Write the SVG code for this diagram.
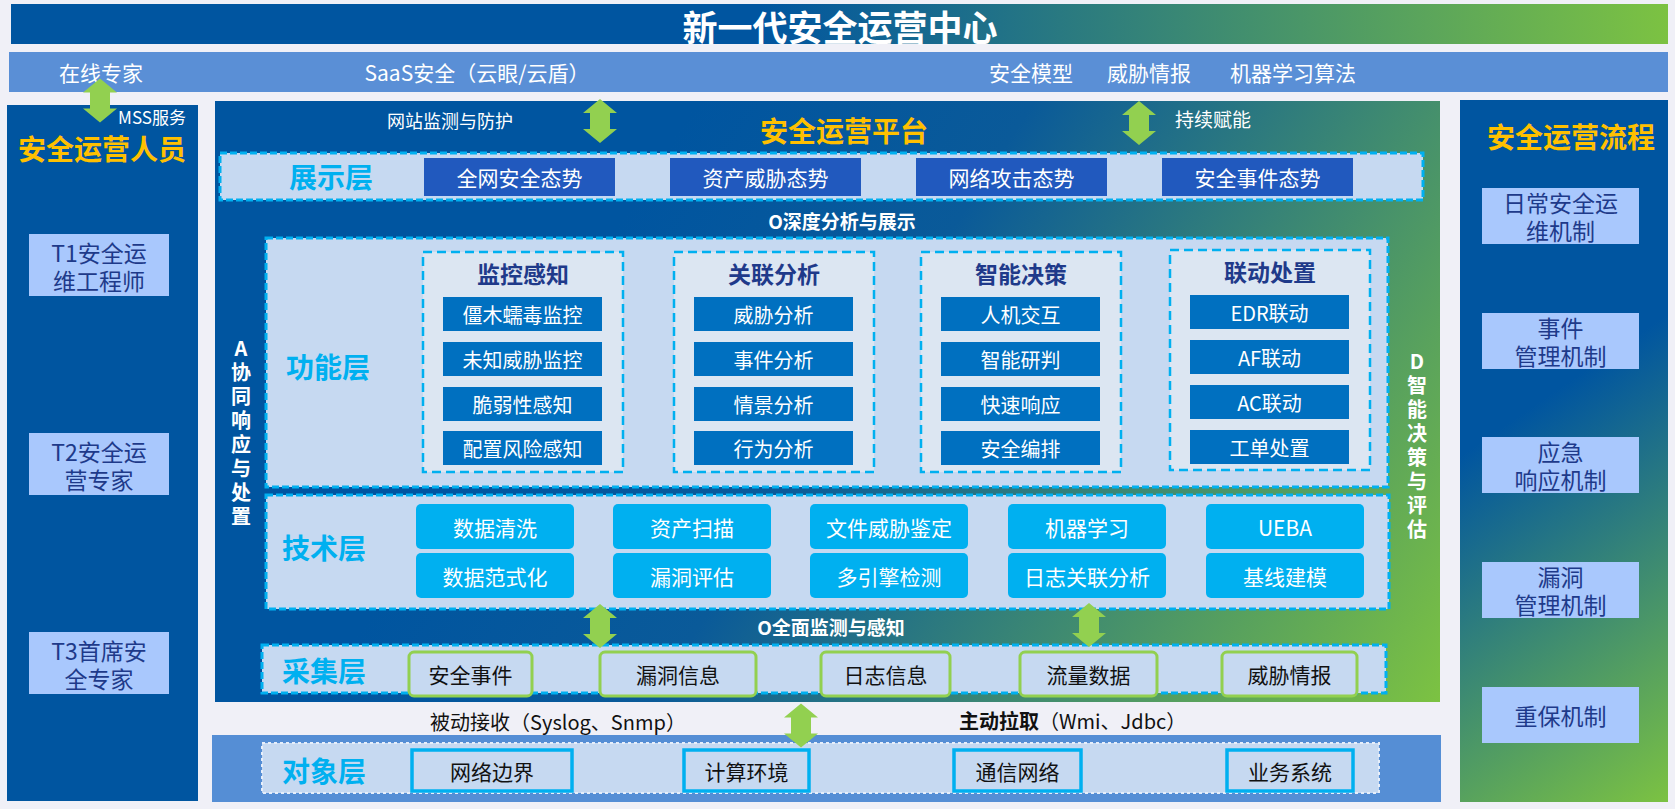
<svg xmlns="http://www.w3.org/2000/svg" xmlns:xlink="http://www.w3.org/1999/xlink" width="1675" height="809" viewBox="0 0 1675 809">
<defs>
<linearGradient id="gTitle" gradientUnits="userSpaceOnUse" x1="760" y1="0" x2="1668" y2="0">
<stop offset="0" stop-color="#0055a0"/><stop offset="1" stop-color="#7cc242"/>
</linearGradient>
<linearGradient id="gPlat" gradientUnits="userSpaceOnUse" x1="640" y1="190" x2="1440" y2="700">
<stop offset="0" stop-color="#0055a0"/><stop offset="0.3" stop-color="#0a5a99"/><stop offset="1" stop-color="#7cc242"/>
</linearGradient>
<linearGradient id="gRight" gradientUnits="userSpaceOnUse" x1="1440" y1="470" x2="1668" y2="802">
<stop offset="0" stop-color="#0055a0"/><stop offset="1" stop-color="#7cc242"/>
</linearGradient>
<path id="dbl" d="M0,-22 L17,-8 L10,-8 L10,8 L17,8 L0,22 L-17,8 L-10,8 L-10,-8 L-17,-8 Z"/>
<style>
text{font-family:"Noto Sans CJK SC","Noto Sans",sans-serif;text-anchor:middle;dominant-baseline:central}
.w{fill:#fff}
.b{font-weight:bold}
.y{fill:#ffc000;font-weight:bold;font-size:28px}
.lay{fill:#00b0f0;font-weight:bold;font-size:28px}
.panel{fill:#c6d9f1;stroke:#00b0f0;stroke-width:3;stroke-dasharray:7 3}
.sub{fill:#dce6f2;stroke:#00b0f0;stroke-width:2.5;stroke-dasharray:9 5}
.item{fill:#0070c0}
.tech{fill:#00b0f0}
.show{fill:#2159be}
.coll{fill:#c6d9f1;stroke:#92d050;stroke-width:3}
.obj{fill:#c6d9f1;stroke:#00b0f0;stroke-width:3.5}
.side{fill:#a9c8fd}
.sidet{fill:#1e3a8a;font-size:23px}
.t20{font-size:20px}
.t21{font-size:21px}
.k{fill:#111}
.subt{fill:#1f3a8a;font-weight:bold;font-size:23px}
.vt{fill:#fff;font-weight:bold;font-size:20px}
.arr{fill:#92d050}
</style>
</defs>
<rect x="0" y="0" width="1675" height="809" fill="#f0f0f7"/>

<g id="title">
<rect x="11" y="4" width="1657" height="40" fill="url(#gTitle)"/>
<text x="840" y="25" class="w b" font-size="35">新一代安全运营中心</text>
</g>

<g id="topbar">
<rect x="9" y="52" width="1659" height="40" fill="#5a8fd6"/>
<text x="101" y="72" class="w t21">在线专家</text>
<text x="477" y="72" class="w t21">SaaS安全（云眼/云盾）</text>
<text x="1031" y="72" class="w t21">安全模型</text>
<text x="1149" y="72" class="w t21">威胁情报</text>
<text x="1293" y="72" class="w t21">机器学习算法</text>
</g>

<g id="left-panel">
<rect x="7" y="105" width="191" height="696" fill="#0055a0"/>
<text x="152" y="116" class="w" font-size="17">MSS服务</text>
<text x="102" y="148" class="y">安全运营人员</text>
<g id="t1"><rect x="29" y="234" width="140" height="62" class="side"/>
<text class="sidet"><tspan x="99" y="252">T1安全运</tspan><tspan x="99" y="280">维工程师</tspan></text></g>
<g id="t2"><rect x="29" y="433" width="140" height="62" class="side"/>
<text class="sidet"><tspan x="99" y="451">T2安全运</tspan><tspan x="99" y="479">营专家</tspan></text></g>
<g id="t3"><rect x="29" y="632" width="140" height="62" class="side"/>
<text class="sidet"><tspan x="99" y="650">T3首席安</tspan><tspan x="99" y="678">全专家</tspan></text></g>
</g>

<g id="platform">
<rect x="215" y="101" width="1225" height="601" fill="url(#gPlat)"/>
<text x="450" y="120" class="w" font-size="18">网站监测与防护</text>
<text x="1213" y="118" class="w" font-size="19">持续赋能</text>
<text x="844" y="130" class="y">安全运营平台</text>
<text x="842" y="220" class="w b" font-size="19">O深度分析与展示</text>
<text x="831" y="626" class="w b" font-size="19">O全面监测与感知</text>
<text id="vA" class="vt"><tspan x="241" y="347">A</tspan><tspan x="241" y="371">协</tspan><tspan x="241" y="395">同</tspan><tspan x="241" y="419">响</tspan><tspan x="241" y="443">应</tspan><tspan x="241" y="467">与</tspan><tspan x="241" y="491">处</tspan><tspan x="241" y="515">置</tspan></text>
<text id="vD" class="vt"><tspan x="1417" y="360">D</tspan><tspan x="1417" y="384">智</tspan><tspan x="1417" y="408">能</tspan><tspan x="1417" y="432">决</tspan><tspan x="1417" y="456">策</tspan><tspan x="1417" y="480">与</tspan><tspan x="1417" y="504">评</tspan><tspan x="1417" y="528">估</tspan></text>
</g>

<g id="display-layer">
<rect x="220" y="153" width="1203" height="47" class="panel"/>
<text x="331" y="176" class="lay">展示层</text>
<rect x="424" y="158" width="191" height="38" class="show"/><text x="519.5" y="177" class="w t21">全网安全态势</text>
<rect x="670" y="158" width="191" height="38" class="show"/><text x="765.5" y="177" class="w t21">资产威胁态势</text>
<rect x="916" y="158" width="191" height="38" class="show"/><text x="1011.5" y="177" class="w t21">网络攻击态势</text>
<rect x="1162" y="158" width="191" height="38" class="show"/><text x="1257.5" y="177" class="w t21">安全事件态势</text>
</g>

<g id="function-layer">
<rect x="266" y="238" width="1122" height="249" class="panel"/>
<text x="328" y="366" class="lay">功能层</text>
<g id="monitor">
<rect x="423" y="252" width="200" height="220" class="sub"/>
<text x="523" y="273" class="subt">监控感知</text>
<rect x="443" y="297" width="159" height="34" class="item"/><text x="522.5" y="314" class="w t20">僵木蠕毒监控</text>
<rect x="443" y="342" width="159" height="34" class="item"/><text x="522.5" y="359" class="w t20">未知威胁监控</text>
<rect x="443" y="387" width="159" height="34" class="item"/><text x="522.5" y="404" class="w t20">脆弱性感知</text>
<rect x="443" y="431" width="159" height="34" class="item"/><text x="522.5" y="448" class="w t20">配置风险感知</text>
</g>
<g id="correlate">
<rect x="674" y="252" width="200" height="220" class="sub"/>
<text x="774" y="273" class="subt">关联分析</text>
<rect x="694" y="297" width="159" height="34" class="item"/><text x="773.5" y="314" class="w t20">威胁分析</text>
<rect x="694" y="342" width="159" height="34" class="item"/><text x="773.5" y="359" class="w t20">事件分析</text>
<rect x="694" y="387" width="159" height="34" class="item"/><text x="773.5" y="404" class="w t20">情景分析</text>
<rect x="694" y="431" width="159" height="34" class="item"/><text x="773.5" y="448" class="w t20">行为分析</text>
</g>
<g id="decide">
<rect x="921" y="252" width="200" height="220" class="sub"/>
<text x="1021" y="273" class="subt">智能决策</text>
<rect x="941" y="297" width="159" height="34" class="item"/><text x="1020.5" y="314" class="w t20">人机交互</text>
<rect x="941" y="342" width="159" height="34" class="item"/><text x="1020.5" y="359" class="w t20">智能研判</text>
<rect x="941" y="387" width="159" height="34" class="item"/><text x="1020.5" y="404" class="w t20">快速响应</text>
<rect x="941" y="431" width="159" height="34" class="item"/><text x="1020.5" y="448" class="w t20">安全编排</text>
</g>
<g id="linkage">
<rect x="1170" y="250" width="200" height="220" class="sub"/>
<text x="1270" y="271" class="subt">联动处置</text>
<rect x="1190" y="295" width="159" height="34" class="item"/><text x="1269.5" y="312" class="w t20">EDR联动</text>
<rect x="1190" y="340" width="159" height="34" class="item"/><text x="1269.5" y="357" class="w t20">AF联动</text>
<rect x="1190" y="385" width="159" height="34" class="item"/><text x="1269.5" y="402" class="w t20">AC联动</text>
<rect x="1190" y="430" width="159" height="34" class="item"/><text x="1269.5" y="447" class="w t20">工单处置</text>
</g>
</g>

<g id="tech-layer">
<rect x="266" y="495" width="1123" height="114" class="panel"/>
<text x="324" y="547" class="lay">技术层</text>
<rect x="416" y="504" width="158" height="45" rx="5" class="tech"/><text x="495" y="526.5" class="w t21">数据清洗</text>
<rect x="613" y="504" width="158" height="45" rx="5" class="tech"/><text x="692" y="526.5" class="w t21">资产扫描</text>
<rect x="810" y="504" width="158" height="45" rx="5" class="tech"/><text x="889" y="526.5" class="w t21">文件威胁鉴定</text>
<rect x="1008" y="504" width="158" height="45" rx="5" class="tech"/><text x="1087" y="526.5" class="w t21">机器学习</text>
<rect x="1206" y="504" width="158" height="45" rx="5" class="tech"/><text x="1285" y="526.5" class="w t21">UEBA</text>
<rect x="416" y="553" width="158" height="45" rx="5" class="tech"/><text x="495" y="575.5" class="w t21">数据范式化</text>
<rect x="613" y="553" width="158" height="45" rx="5" class="tech"/><text x="692" y="575.5" class="w t21">漏洞评估</text>
<rect x="810" y="553" width="158" height="45" rx="5" class="tech"/><text x="889" y="575.5" class="w t21">多引擎检测</text>
<rect x="1008" y="553" width="158" height="45" rx="5" class="tech"/><text x="1087" y="575.5" class="w t21">日志关联分析</text>
<rect x="1206" y="553" width="158" height="45" rx="5" class="tech"/><text x="1285" y="575.5" class="w t21">基线建模</text>
</g>

<g id="collect-layer">
<rect x="262" y="645" width="1124" height="48" class="panel"/>
<text x="324" y="670" class="lay">采集层</text>
<rect x="409" y="652" width="123" height="44" rx="5" class="coll"/><text x="470.5" y="674" class="k t21">安全事件</text>
<rect x="600" y="652" width="156" height="44" rx="5" class="coll"/><text x="678" y="674" class="k t21">漏洞信息</text>
<rect x="821" y="652" width="129" height="44" rx="5" class="coll"/><text x="885.5" y="674" class="k t21">日志信息</text>
<rect x="1020" y="652" width="137" height="44" rx="5" class="coll"/><text x="1088.5" y="674" class="k t21">流量数据</text>
<rect x="1222" y="652" width="135" height="44" rx="5" class="coll"/><text x="1289.5" y="674" class="k t21">威胁情报</text>
</g>

<g id="between-labels">
<text x="558" y="721" class="k t20">被动接收（Syslog、Snmp）</text>
<text x="959" y="720" class="k t20" style="text-anchor:start"><tspan font-weight="bold">主动拉取</tspan>（Wmi、Jdbc）</text>
</g>

<g id="object-layer">
<rect x="212" y="735" width="1229" height="67" fill="#558ed5"/>
<rect x="262" y="743" width="1117" height="50" fill="#c6d9f1" stroke="#e6eefa" stroke-width="2" stroke-dasharray="3 3"/>
<text x="324" y="770" class="lay">对象层</text>
<rect x="412" y="750" width="160" height="41" class="obj"/><text x="492" y="770.5" class="k t21">网络边界</text>
<rect x="684" y="750" width="125" height="41" class="obj"/><text x="746.5" y="770.5" class="k t21">计算环境</text>
<rect x="954" y="750" width="127" height="41" class="obj"/><text x="1017.5" y="770.5" class="k t21">通信网络</text>
<rect x="1227" y="750" width="126" height="41" class="obj"/><text x="1290" y="770.5" class="k t21">业务系统</text>
</g>

<g id="right-panel">
<rect x="1460" y="100" width="208" height="702" fill="url(#gRight)"/>
<text x="1571" y="136" class="y">安全运营流程</text>
<g id="r1"><rect x="1482" y="188" width="157" height="56" class="side"/>
<text class="sidet"><tspan x="1560.5" y="202">日常安全运</tspan><tspan x="1560.5" y="230">维机制</tspan></text></g>
<g id="r2"><rect x="1482" y="313" width="157" height="56" class="side"/>
<text class="sidet"><tspan x="1560.5" y="327">事件</tspan><tspan x="1560.5" y="355">管理机制</tspan></text></g>
<g id="r3"><rect x="1482" y="437" width="157" height="56" class="side"/>
<text class="sidet"><tspan x="1560.5" y="451">应急</tspan><tspan x="1560.5" y="479">响应机制</tspan></text></g>
<g id="r4"><rect x="1482" y="562" width="157" height="56" class="side"/>
<text class="sidet"><tspan x="1560.5" y="576">漏洞</tspan><tspan x="1560.5" y="604">管理机制</tspan></text></g>
<g id="r5"><rect x="1482" y="687" width="157" height="56" class="side"/>
<text x="1560.5" y="715" class="sidet">重保机制</text></g>
</g>

<g id="connectors" class="arr">
<use xlink:href="#dbl" x="100" y="100.5"/>
<use xlink:href="#dbl" x="600" y="121"/>
<use xlink:href="#dbl" x="1139" y="123"/>
<use xlink:href="#dbl" x="600" y="626"/>
<use xlink:href="#dbl" x="1089" y="625"/>
<use xlink:href="#dbl" x="801" y="725.5"/>
</g>
</svg>
